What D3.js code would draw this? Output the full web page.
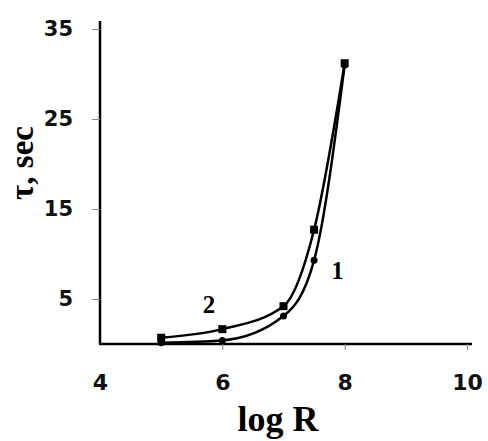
<!DOCTYPE html>
<html>
<head>
<meta charset="utf-8">
<script src="https://cdn.jsdelivr.net/npm/d3@7"></script>
<style>
body { margin: 0; background: #fff; }
</style>
</head>
<body>
<div id="chart-area"></div>
<script>
// values
var logR = [5, 6, 7, 7.5, 8];
var tau1 = [0.15, 0.4, 3.1, 9.3, 31];
var tau2 = [0.7, 1.65, 4.2, 12.7, 31.2];
var xTicks = [4, 6, 8, 10];
var yTicks = [5, 15, 25, 35];

var svg = d3.select("#chart-area").append("svg")
      .attr("width", 488)
      .attr("height", 441);

var x = d3.scaleLinear().domain([4, 10]).range([100, 467]);
var y = d3.scaleLinear().domain([0, 35]).range([344, 29]);

// axes
var yAxis = svg.append("g")
    .attr("transform", "translate(100,0)")
    .call(d3.axisLeft(y).tickValues(yTicks).tickSize(8).tickPadding(19));
yAxis.select(".domain").attr("d", "M0," + y(0) + "V21").attr("stroke-width", 2.5);

var xAxis = svg.append("g")
    .attr("transform", "translate(0," + y(0) + ")")
    .call(d3.axisBottom(x).tickValues(xTicks).tickFormat(d3.format("d")).tickSize(6).tickPadding(24));
xAxis.select(".domain").attr("d", "M99,0H472").attr("stroke-width", 2.5);

svg.selectAll(".tick line").attr("stroke", "#888").attr("stroke-width", 1);
svg.selectAll(".tick text")
    .attr("font-family", "DejaVu Sans, sans-serif")
    .attr("font-weight", "bold")
    .attr("font-size", 21)
    .attr("fill", "#111");
xAxis.selectAll(".tick text").attr("font-size", 22);
xAxis.selectAll(".tick").filter(function(d) { return d == 4; }).select("line").remove();

// curves
var line = d3.line()
    .x(function(d) { return x(d[0]); })
    .y(function(d) { return y(d[1]); })
    .curve(d3.curveMonotoneX);

var pts1 = logR.map(function(v, i) { return [v, tau1[i]]; });
var pts2 = logR.map(function(v, i) { return [v, tau2[i]]; });

svg.append("path").datum(pts1)
    .attr("d", line).attr("fill", "none").attr("stroke", "#000").attr("stroke-width", 2.5);
svg.append("path").datum(pts2)
    .attr("d", line).attr("fill", "none").attr("stroke", "#000").attr("stroke-width", 2.5);

svg.selectAll("circle.p1").data(pts1).enter().append("circle")
    .attr("class", "p1")
    .attr("cx", function(d) { return x(d[0]); })
    .attr("cy", function(d) { return y(d[1]); })
    .attr("r", 3.5);

svg.selectAll("rect.p2").data(pts2).enter().append("rect")
    .attr("class", "p2")
    .attr("x", function(d) { return x(d[0]) - 4; })
    .attr("y", function(d) { return y(d[1]) - 4; })
    .attr("width", 8)
    .attr("height", 8);

// curve labels
svg.append("text").attr("x", x(7.78)).attr("y", y(7.2))
    .attr("font-family", "Liberation Serif, serif").attr("font-weight", "bold")
    .attr("font-size", 25).text("1");
svg.append("text").attr("x", x(5.68)).attr("y", y(3.4))
    .attr("font-family", "Liberation Serif, serif").attr("font-weight", "bold")
    .attr("font-size", 25).text("2");

// axis titles
svg.append("text")
    .attr("transform", "translate(33,163) rotate(-90)")
    .attr("text-anchor", "middle")
    .attr("font-family", "Liberation Serif, serif").attr("font-weight", "bold")
    .attr("font-size", 33).text("τ, sec");

svg.append("text")
    .attr("x", 278).attr("y", 431)
    .attr("text-anchor", "middle")
    .attr("font-family", "Liberation Serif, serif").attr("font-weight", "bold")
    .attr("font-size", 36).text("log R");
</script>
</body>
</html>
